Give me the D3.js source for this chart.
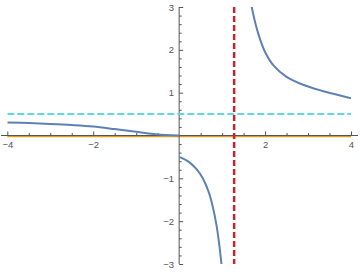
<!DOCTYPE html>
<html>
<head>
<meta charset="utf-8">
<script src="https://cdn.jsdelivr.net/npm/d3@7"></script>
<style>
  body { margin: 0; background: #fff; }
  svg { display: block; font-family: "Liberation Sans", Arial, sans-serif; }
</style>
</head>
<body>
<svg id="chart"></svg>
<script>
// branches of the plotted function
const leftBranch = [
  { x: -4, y: 0.305 }, { x: -3.5, y: 0.29 }, { x: -3, y: 0.27 }, { x: -2.5, y: 0.245 },
  { x: -2, y: 0.21 }, { x: -1.5, y: 0.15 }, { x: -1, y: 0.085 }, { x: -0.6, y: 0.035 },
  { x: -0.3, y: 0.01 }, { x: 0, y: 0 }
];
const lowerBranch = [
  { x: 0, y: -0.5 }, { x: 0.2, y: -0.6 }, { x: 0.4, y: -0.78 }, { x: 0.55, y: -1.0 },
  { x: 0.68, y: -1.3 }, { x: 0.78, y: -1.65 }, { x: 0.87, y: -2.1 }, { x: 0.94, y: -2.6 },
  { x: 0.99, y: -3.05 }
];
const upperBranch = [
  { x: 1.68, y: 3.05 }, { x: 1.75, y: 2.72 }, { x: 1.85, y: 2.35 }, { x: 2.0, y: 1.95 },
  { x: 2.2, y: 1.63 }, { x: 2.5, y: 1.37 }, { x: 2.9, y: 1.18 }, { x: 3.3, y: 1.05 },
  { x: 3.7, y: 0.945 }, { x: 4, y: 0.87 }
];
const zeroLine = [-4, 4];           // orange y = 0 plot
const horizAsymptote = 0.5;         // cyan dashed
const vertAsymptote = 1.28;         // red dashed
const xMajor = [-4, -2, 2, 4];
const xMinor = [-3.5, -3, -2.5, -1.5, -1, -0.5, 0.5, 1, 1.5, 2.5, 3, 3.5];
const yMajor = [-3, -2, -1, 1, 2, 3];
const yMinor = [-2.8, -2.6, -2.4, -2.2, -1.8, -1.6, -1.4, -1.2, -0.8, -0.6, -0.4, -0.2,
                0.2, 0.4, 0.6, 0.8, 1.2, 1.4, 1.6, 1.8, 2.2, 2.4, 2.6, 2.8];

const width = 360, height = 272;
const svg = d3.select("#chart").attr("width", width).attr("height", height);

const x = d3.scaleLinear().domain([-4, 4]).range([7.3, 351]);
const y = d3.scaleLinear().domain([-3, 3]).range([264, 7]);

svg.append("defs").append("clipPath").attr("id", "plot")
  .append("rect")
  .attr("x", x(-4)).attr("y", y(3))
  .attr("width", x(4) - x(-4)).attr("height", y(-3) - y(3));

const axisColor = "#555";

// orange y = 0 line
svg.append("line")
  .attr("x1", x(zeroLine[0])).attr("x2", x(zeroLine[1]))
  .attr("y1", y(0) + 0.8).attr("y2", y(0) + 0.8)
  .attr("stroke", "#E19C24")
  .attr("stroke-width", 2);

// x axis
svg.append("line")
  .attr("x1", 1).attr("x2", 358)
  .attr("y1", y(0)).attr("y2", y(0))
  .attr("stroke", axisColor).attr("stroke-width", 1);

const xAxis = svg.append("g")
  .attr("transform", `translate(0,${y(0)})`)
  .call(d3.axisBottom(x).tickValues(xMajor).tickSize(-4).tickPadding(6)
    .tickFormat(d => d < 0 ? "\u2212" + Math.abs(d) : d));
const xAxisMinor = svg.append("g")
  .attr("transform", `translate(0,${y(0)})`)
  .call(d3.axisBottom(x).tickValues(xMinor).tickSize(-2.5).tickFormat(""));

// y axis
svg.append("line")
  .attr("x1", x(0)).attr("x2", x(0))
  .attr("y1", y(3)).attr("y2", y(-3))
  .attr("stroke", axisColor).attr("stroke-width", 1);

const yAxis = svg.append("g")
  .attr("transform", `translate(${x(0)},0)`)
  .call(d3.axisLeft(y).tickValues(yMajor).tickSize(-4).tickPadding(5)
    .tickFormat(d => d < 0 ? "\u2212" + Math.abs(d) : d));
const yAxisMinor = svg.append("g")
  .attr("transform", `translate(${x(0)},0)`)
  .call(d3.axisLeft(y).tickValues(yMinor).tickSize(-2.5).tickFormat(""));

[xAxis, xAxisMinor, yAxis, yAxisMinor].forEach(g => {
  g.select(".domain").remove();
  g.selectAll(".tick line").attr("stroke", axisColor);
  g.selectAll(".tick text").attr("fill", "#555").style("font-size", "9.5px")
    .style("font-family", "'Liberation Sans', Arial, sans-serif");
});

// function branches
const line = d3.line()
  .x(d => x(d.x))
  .y(d => y(d.y))
  .curve(d3.curveCatmullRom.alpha(0.5));

const plot = svg.append("g").attr("clip-path", "url(#plot)");

[leftBranch, lowerBranch, upperBranch].forEach(branch => {
  plot.append("path")
    .datum(branch)
    .attr("fill", "none")
    .attr("stroke", "#5E81B5")
    .attr("stroke-width", 2)
    .attr("d", line);
});

// asymptotes
plot.append("line")
  .attr("x1", x(-4)).attr("x2", x(4))
  .attr("y1", y(horizAsymptote)).attr("y2", y(horizAsymptote))
  .attr("stroke", "#5FD8E3")
  .attr("stroke-width", 2)
  .attr("stroke-dasharray", "7 3");

plot.append("line")
  .attr("x1", x(vertAsymptote)).attr("x2", x(vertAsymptote))
  .attr("y1", y(3)).attr("y2", y(-3))
  .attr("stroke", "#C1272D")
  .attr("stroke-width", 2.5)
  .attr("stroke-dasharray", "6 3");
</script>
</body>
</html>
